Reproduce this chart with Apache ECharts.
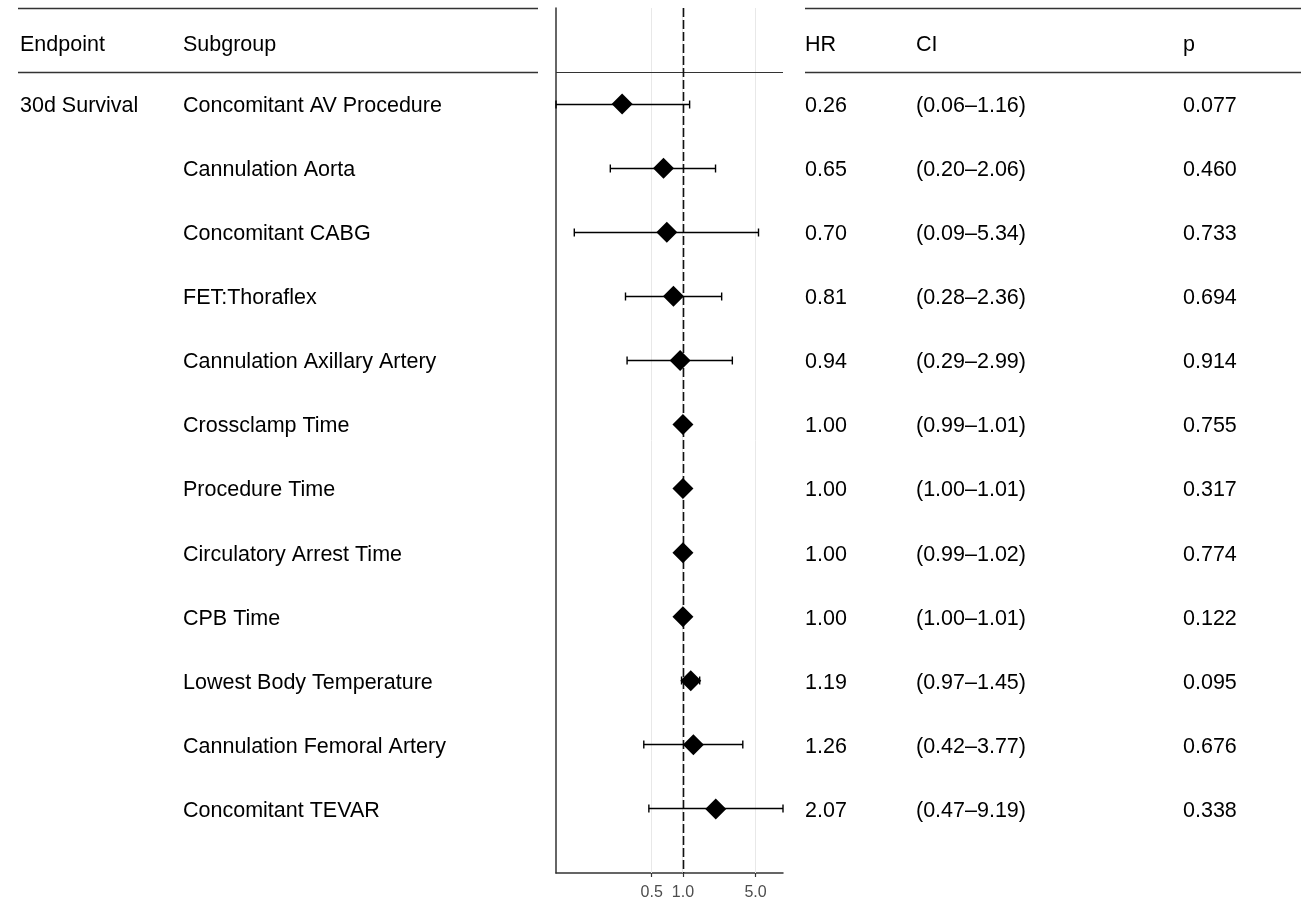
<!DOCTYPE html>
<html>
<head>
<meta charset="utf-8">
<script src="https://cdn.jsdelivr.net/npm/echarts@6/dist/echarts.min.js"></script>
<style>
  html, body { margin: 0; padding: 0; background: #fff; }
</style>
</head>
<body>
<div id="myChart" style="width:1301px;height:904px"></div>
<script>
// forest plot data, one entry per row (row 1 = top)
var endpoints = ['30d Survival', '', '', '', '', '', '', '', '', '', '', '']
var subgroups = [
  'Concomitant AV Procedure', 'Cannulation Aorta', 'Concomitant CABG', 'FET:Thoraflex',
  'Cannulation Axillary Artery', 'Crossclamp Time', 'Procedure Time', 'Circulatory Arrest Time',
  'CPB Time', 'Lowest Body Temperature', 'Cannulation Femoral Artery', 'Concomitant TEVAR'
]
var hr = [0.26, 0.65, 0.70, 0.81, 0.94, 1.00, 1.00, 1.00, 1.00, 1.19, 1.26, 2.07]
var ciLow = [0.06, 0.20, 0.09, 0.28, 0.29, 0.99, 1.00, 0.99, 1.00, 0.97, 0.42, 0.47]
var ciHigh = [1.16, 2.06, 5.34, 2.36, 2.99, 1.01, 1.01, 1.02, 1.01, 1.45, 3.77, 9.19]
var pvals = ['0.077', '0.460', '0.733', '0.694', '0.914', '0.755', '0.317', '0.774', '0.122', '0.095', '0.676', '0.338']
var headers = ['Endpoint', 'Subgroup', 'HR', 'CI', 'p']
var xTicks = [0.5, 1.0, 5.0]
var refHR = 1

var FONT = '"Liberation Sans", Arial, sans-serif'
var colX = [20, 183, 805, 916, 1183]

var myChart = echarts.init(document.getElementById('myChart'))

var pointData = hr.map(function (v, i) { return [v, i + 1] })
var barData = hr.map(function (v, i) { return [ciLow[i], ciHigh[i], i + 1] })
var tableRows = [[1, 0]].concat(hr.map(function (v, i) { return [1, i + 1] }))
var gridData = xTicks.map(function (v) { return [v, 0] })

function crisp (v) { return Math.round(v - 0.5) + 0.5 }

function txt (x, y, s) {
  return {
    type: 'text',
    x: x, y: y,
    style: { text: s, fill: '#000', font: '21.5px ' + FONT, textVerticalAlign: 'middle', textAlign: 'left' }
  }
}

function hline (x1, x2, y) {
  return {
    type: 'line',
    shape: { x1: x1, y1: y, x2: x2, y2: y },
    style: { stroke: '#333', lineWidth: 1.3 }
  }
}

var options = {
  animation: false,
  grid: { left: 556, right: 518, top: 8, bottom: 31 },
  xAxis: {
    type: 'log',
    logBase: 10,
    min: 0.06,
    max: 9.19,
    axisLine: { show: true, onZero: false, lineStyle: { color: '#333', width: 1.5 } },
    axisTick: { show: true, customValues: xTicks, length: 4, lineStyle: { color: '#333', width: 1.2 } },
    axisLabel: {
      customValues: xTicks,
      margin: 12,
      color: '#4d4d4d',
      fontSize: 16,
      fontFamily: FONT,
      formatter: function (v) { return Number(v).toFixed(1) }
    },
    splitLine: { show: false },
    minorTick: { show: false }
  },
  yAxis: {
    type: 'value',
    inverse: true,
    min: -0.5,
    max: 13,
    axisLine: { show: true, lineStyle: { color: '#333', width: 1.5 } },
    axisTick: { show: false },
    axisLabel: { show: false },
    splitLine: { show: false }
  },
  series: [{
    // light grid lines at the tick values
    type: 'custom',
    z: 1,
    silent: true,
    data: gridData,
    renderItem: function (params, api) {
      var cs = params.coordSys
      var x = crisp(api.coord([api.value(0), 0])[0])
      return {
        type: 'line',
        shape: { x1: x, y1: cs.y, x2: x, y2: cs.y + cs.height },
        style: { stroke: '#e8e8e8', lineWidth: 1 }
      }
    }
  }, {
    // header separator inside the plot + dashed reference line at HR = 1
    type: 'custom',
    z: 2,
    silent: true,
    data: [[refHR, 0.5]],
    renderItem: function (params, api) {
      var cs = params.coordSys
      var p = api.coord([api.value(0), api.value(1)])
      var x = Math.round(p[0]) + 0.5
      var y = crisp(p[1])
      return {
        type: 'group',
        children: [
          { type: 'line', shape: { x1: cs.x, y1: y, x2: cs.x + cs.width, y2: y }, style: { stroke: '#333', lineWidth: 1.2 } },
          { type: 'line', shape: { x1: x, y1: cs.y, x2: x, y2: cs.y + cs.height }, style: { stroke: '#111', lineWidth: 1.6, lineDash: [9, 3] } }
        ]
      }
    }
  }, {
    // confidence intervals
    type: 'custom',
    z: 3,
    data: barData,
    renderItem: function (params, api) {
      var a = api.coord([api.value(0), api.value(2)])
      var b = api.coord([api.value(1), api.value(2)])
      var y = crisp(a[1])
      var h = 4
      var st = { stroke: '#000', lineWidth: 1.4 }
      return {
        type: 'group',
        children: [
          { type: 'line', shape: { x1: a[0], y1: y, x2: b[0], y2: y }, style: st },
          { type: 'line', shape: { x1: a[0], y1: y - h, x2: a[0], y2: y + h }, style: st },
          { type: 'line', shape: { x1: b[0], y1: y - h, x2: b[0], y2: y + h }, style: st }
        ]
      }
    }
  }, {
    // hazard ratios
    type: 'scatter',
    z: 4,
    symbol: 'diamond',
    symbolSize: 21,
    itemStyle: { color: '#000', opacity: 1 },
    data: pointData
  }, {
    // table text on both sides of the plot
    type: 'custom',
    z: 5,
    clip: false,
    silent: true,
    data: tableRows,
    renderItem: function (params, api) {
      var r = api.value(1)
      var y = api.coord([1, r])[1] + 2
      var kids = []
      if (r === 0) {
        headers.forEach(function (h, k) { kids.push(txt(colX[k], y + 3, h)) })
        var yTop = crisp(api.coord([1, -0.5])[1])
        var yMid = crisp(api.coord([1, 0.5])[1])
        kids.push(hline(18, 538, yTop), hline(18, 538, yMid), hline(805, 1301, yTop), hline(805, 1301, yMid))
      } else {
        var i = r - 1
        kids.push(
          txt(colX[0], y, endpoints[i]),
          txt(colX[1], y, subgroups[i]),
          txt(colX[2], y, hr[i].toFixed(2)),
          txt(colX[3], y, '(' + ciLow[i].toFixed(2) + '\u2013' + ciHigh[i].toFixed(2) + ')'),
          txt(colX[4], y, pvals[i])
        )
      }
      return { type: 'group', children: kids }
    }
  }]
}

myChart.setOption(options)
</script>
</body>
</html>
